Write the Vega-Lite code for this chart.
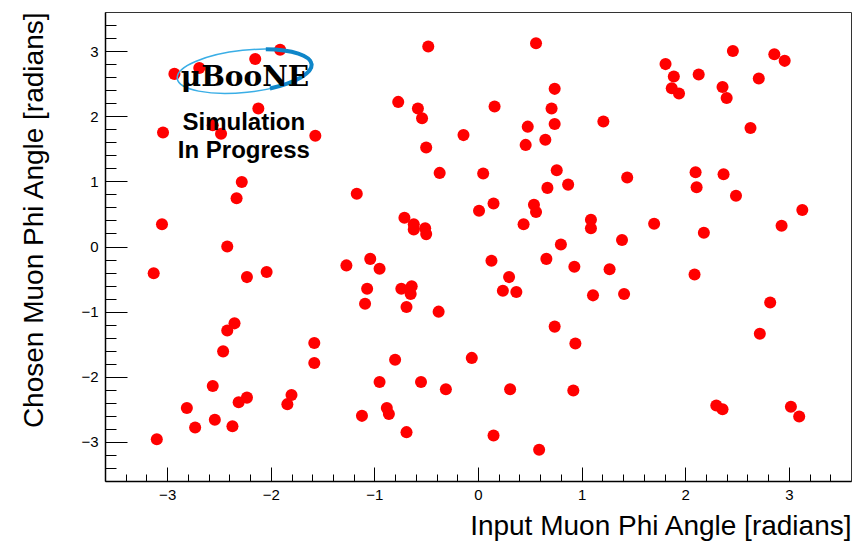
{
  "$schema": "https://vega.github.io/schema/vega-lite/v6.json",
  "width": 746,
  "height": 469,
  "autosize": {"type": "none"},
  "padding": {"left": 105, "top": 12, "right": 2, "bottom": 60},
  "background": "white",
  "config": {
    "font": "Liberation Sans",
    "view": {"stroke": "#333", "strokeWidth": 1}
  },
  "datasets": {
    "points": [
      {"input": -2.93, "chosen": 2.65}, {"input": -2.69, "chosen": 2.74}, {"input": -2.15, "chosen": 2.88}, {"input": -1.91, "chosen": 3.02},
      {"input": -2.12, "chosen": 2.12}, {"input": -3.04, "chosen": 1.75}, {"input": -2.56, "chosen": 1.86}, {"input": -2.48, "chosen": 1.73},
      {"input": -1.57, "chosen": 1.70}, {"input": -2.28, "chosen": 0.99}, {"input": -2.33, "chosen": 0.74}, {"input": -3.05, "chosen": 0.34},
      {"input": -1.17, "chosen": 0.81}, {"input": -2.42, "chosen": 0.00}, {"input": -3.13, "chosen": -0.41}, {"input": -2.23, "chosen": -0.47},
      {"input": -2.04, "chosen": -0.39}, {"input": -1.27, "chosen": -0.29}, {"input": -2.35, "chosen": -1.18}, {"input": -2.42, "chosen": -1.29},
      {"input": -2.46, "chosen": -1.61}, {"input": -1.58, "chosen": -1.48}, {"input": -1.58, "chosen": -1.79}, {"input": -2.56, "chosen": -2.14},
      {"input": -2.23, "chosen": -2.32}, {"input": -2.31, "chosen": -2.39}, {"input": -1.80, "chosen": -2.28}, {"input": -1.84, "chosen": -2.42},
      {"input": -2.81, "chosen": -2.48}, {"input": -2.54, "chosen": -2.66}, {"input": -2.73, "chosen": -2.78}, {"input": -2.37, "chosen": -2.76},
      {"input": -3.10, "chosen": -2.96}, {"input": -1.12, "chosen": -2.60}, {"input": -0.48, "chosen": 3.07}, {"input": 0.56, "chosen": 3.12},
      {"input": 0.74, "chosen": 2.42}, {"input": -0.77, "chosen": 2.22}, {"input": -0.58, "chosen": 2.12}, {"input": -0.54, "chosen": 1.97},
      {"input": 0.16, "chosen": 2.15}, {"input": 0.71, "chosen": 2.12}, {"input": 1.21, "chosen": 1.92}, {"input": 0.74, "chosen": 1.88},
      {"input": 0.48, "chosen": 1.84}, {"input": -0.14, "chosen": 1.71}, {"input": 0.65, "chosen": 1.64}, {"input": 0.46, "chosen": 1.56},
      {"input": -0.50, "chosen": 1.52}, {"input": -0.37, "chosen": 1.13}, {"input": 0.05, "chosen": 1.12}, {"input": 0.76, "chosen": 1.17},
      {"input": 0.67, "chosen": 0.90}, {"input": 0.87, "chosen": 0.95}, {"input": -0.71, "chosen": 0.44}, {"input": -0.62, "chosen": 0.34},
      {"input": -0.62, "chosen": 0.26}, {"input": -0.51, "chosen": 0.28}, {"input": -0.50, "chosen": 0.19}, {"input": 0.01, "chosen": 0.55},
      {"input": 0.15, "chosen": 0.66}, {"input": 0.44, "chosen": 0.34}, {"input": 0.54, "chosen": 0.64}, {"input": 0.56, "chosen": 0.53},
      {"input": 1.09, "chosen": 0.41}, {"input": 1.09, "chosen": 0.28}, {"input": 0.80, "chosen": 0.03}, {"input": -1.04, "chosen": -0.19},
      {"input": -0.95, "chosen": -0.34}, {"input": -1.07, "chosen": -0.65}, {"input": -1.09, "chosen": -0.88}, {"input": -0.74, "chosen": -0.65},
      {"input": -0.64, "chosen": -0.61}, {"input": -0.65, "chosen": -0.73}, {"input": -0.69, "chosen": -0.93}, {"input": -0.38, "chosen": -1.00},
      {"input": 0.13, "chosen": -0.22}, {"input": 0.30, "chosen": -0.47}, {"input": 0.24, "chosen": -0.68}, {"input": 0.37, "chosen": -0.70},
      {"input": 0.66, "chosen": -0.19}, {"input": 0.93, "chosen": -0.31}, {"input": 1.27, "chosen": -0.35}, {"input": 1.11, "chosen": -0.75},
      {"input": 0.74, "chosen": -1.23}, {"input": 0.94, "chosen": -1.49}, {"input": -0.80, "chosen": -1.74}, {"input": -0.06, "chosen": -1.71},
      {"input": -0.95, "chosen": -2.08}, {"input": -0.55, "chosen": -2.08}, {"input": -0.31, "chosen": -2.19}, {"input": 0.31, "chosen": -2.19},
      {"input": 0.92, "chosen": -2.21}, {"input": -0.88, "chosen": -2.48}, {"input": -0.86, "chosen": -2.57}, {"input": -0.69, "chosen": -2.85},
      {"input": 0.15, "chosen": -2.90}, {"input": 0.59, "chosen": -3.12}, {"input": 2.46, "chosen": 3.00}, {"input": 2.86, "chosen": 2.95},
      {"input": 2.96, "chosen": 2.85}, {"input": 1.81, "chosen": 2.80}, {"input": 1.89, "chosen": 2.61}, {"input": 2.13, "chosen": 2.64},
      {"input": 2.71, "chosen": 2.58}, {"input": 1.87, "chosen": 2.43}, {"input": 1.94, "chosen": 2.35}, {"input": 2.36, "chosen": 2.45},
      {"input": 2.40, "chosen": 2.28}, {"input": 2.63, "chosen": 1.82}, {"input": 1.44, "chosen": 1.06}, {"input": 2.10, "chosen": 1.14},
      {"input": 2.37, "chosen": 1.11}, {"input": 2.11, "chosen": 0.91}, {"input": 2.49, "chosen": 0.78}, {"input": 3.13, "chosen": 0.56},
      {"input": 1.70, "chosen": 0.35}, {"input": 2.93, "chosen": 0.32}, {"input": 2.18, "chosen": 0.21}, {"input": 1.39, "chosen": 0.10},
      {"input": 2.09, "chosen": -0.43}, {"input": 1.41, "chosen": -0.73}, {"input": 2.82, "chosen": -0.86}, {"input": 2.72, "chosen": -1.34},
      {"input": 2.30, "chosen": -2.44}, {"input": 2.36, "chosen": -2.50}, {"input": 3.02, "chosen": -2.46}, {"input": 3.10, "chosen": -2.61}
    ],
    "logo": [{"input": -2.25, "chosen": 2.69, "label": "μBooNE", "ty": 2.47}],
    "notes": [
      {"input": -2.26, "chosen": 1.79, "label": "Simulation"},
      {"input": -2.26, "chosen": 1.36, "label": "In Progress"}
    ]
  },
  "resolve": {"axis": {"x": "independent", "y": "independent"}},
  "layer": [
    {
      "data": {"name": "points"},
      "mark": {"type": "circle", "size": 145, "color": "#ff0000", "opacity": 1},
      "encoding": {
        "x": {
          "field": "input", "type": "quantitative",
          "scale": {"domain": [-3.6, 3.6], "nice": false, "zero": false},
          "axis": {
            "orient": "bottom", "values": [-3, -2, -1, 0, 1, 2, 3], "format": "d",
            "grid": false, "tickSize": -14, "tickColor": "#000", "tickWidth": 1,
            "domainColor": "#000", "domainWidth": 1.5,
            "labelFont": "Liberation Sans", "labelFontSize": 15, "labelColor": "#000", "labelPadding": 20,
            "title": "Input Muon Phi Angle [radians]", "titleFont": "Liberation Sans", "titleFontSize": 28,
            "titleFontWeight": "normal", "titleColor": "#000", "titleAnchor": "end", "titleAlign": "right",
            "titleBaseline": "alphabetic", "titleX": 746, "titleY": 53
          }
        },
        "y": {
          "field": "chosen", "type": "quantitative",
          "scale": {"domain": [-3.6, 3.6], "nice": false, "zero": false},
          "axis": {
            "orient": "left", "values": [-3, -2, -1, 0, 1, 2, 3], "format": "d",
            "grid": false, "tickSize": -22, "tickColor": "#000", "tickWidth": 1,
            "domainColor": "#000", "domainWidth": 1.5,
            "labelFont": "Liberation Sans", "labelFontSize": 15, "labelColor": "#000", "labelPadding": 29,
            "labelAlign": "right",
            "encode": {"labels": {"update": {"x": {"value": -7}}}},
            "title": "Chosen Muon Phi Angle [radians]", "titleFont": "Liberation Sans", "titleFontSize": 28,
            "titleFontWeight": "normal", "titleColor": "#000", "titleAnchor": "end", "titleAlign": "right",
            "titleBaseline": "alphabetic", "titleAngle": -90, "titleX": -63, "titleY": 0
          }
        }
      }
    },
    {
      "data": {"name": "points"},
      "mark": {"type": "point", "opacity": 0},
      "encoding": {
        "x": {
          "field": "input", "type": "quantitative",
          "axis": {
            "orient": "bottom",
            "values": [-3.4, -3.2, -2.8, -2.6, -2.4, -2.2, -1.8, -1.6, -1.4, -1.2, -0.8, -0.6, -0.4, -0.2, 0.2, 0.4, 0.6, 0.8, 1.2, 1.4, 1.6, 1.8, 2.2, 2.4, 2.6, 2.8, 3.2, 3.4],
            "labels": false, "domain": false, "grid": false, "title": null,
            "tickSize": -7, "tickColor": "#000", "tickWidth": 1
          }
        },
        "y": {
          "field": "chosen", "type": "quantitative",
          "axis": {
            "orient": "left",
            "values": [-3.4, -3.2, -2.8, -2.6, -2.4, -2.2, -1.8, -1.6, -1.4, -1.2, -0.8, -0.6, -0.4, -0.2, 0.2, 0.4, 0.6, 0.8, 1.2, 1.4, 1.6, 1.8, 2.2, 2.4, 2.6, 2.8, 3.2, 3.4],
            "labels": false, "domain": false, "grid": false, "title": null,
            "tickSize": -11, "tickColor": "#000", "tickWidth": 1
          }
        }
      }
    },
    {
      "data": {"name": "logo"},
      "mark": {
        "type": "point", "filled": false, "size": 18496, "angle": -6,
        "shape": "M -1 0 A 1 0.31 0 1 1 1 0 A 1 0.31 0 1 1 -1 0 Z",
        "stroke": "#3aaee6", "strokeWidth": 1.5, "opacity": 1
      },
      "encoding": {
        "x": {"field": "input", "type": "quantitative", "axis": null},
        "y": {"field": "chosen", "type": "quantitative", "axis": null}
      }
    },
    {
      "data": {"name": "logo"},
      "mark": {
        "type": "point", "filled": false, "size": 18496, "angle": -6,
        "shape": "M 0.34 -0.29 A 1 0.31 0 0 1 0.34 0.29",
        "stroke": "#0f86c9", "strokeWidth": 4, "opacity": 1
      },
      "encoding": {
        "x": {"field": "input", "type": "quantitative", "axis": null},
        "y": {"field": "chosen", "type": "quantitative", "axis": null}
      }
    },
    {
      "data": {"name": "logo"},
      "mark": {
        "type": "text", "font": "DejaVu Serif", "fontWeight": "bold", "fontSize": 28,
        "color": "#000", "align": "center", "baseline": "alphabetic"
      },
      "encoding": {
        "x": {"field": "input", "type": "quantitative", "axis": null},
        "y": {"field": "ty", "type": "quantitative", "axis": null},
        "text": {"field": "label"}
      }
    },
    {
      "data": {"name": "notes"},
      "mark": {
        "type": "text", "font": "Liberation Sans", "fontWeight": "bold", "fontSize": 24,
        "color": "#000", "align": "center", "baseline": "alphabetic"
      },
      "encoding": {
        "x": {"field": "input", "type": "quantitative", "axis": null},
        "y": {"field": "chosen", "type": "quantitative", "axis": null},
        "text": {"field": "label"}
      }
    }
  ]
}
